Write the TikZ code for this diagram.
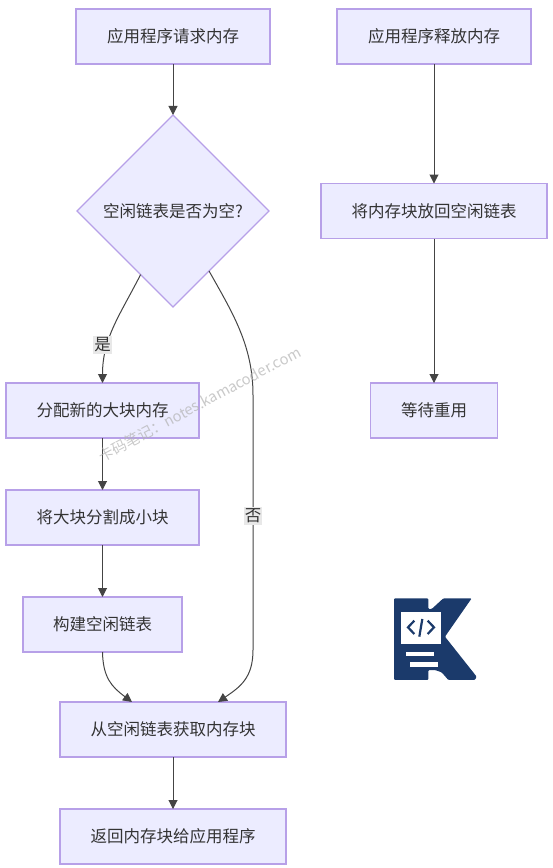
\documentclass[tikz,border=0pt]{standalone}
\usepackage{fontspec}
\setmainfont{Noto Sans CJK SC}
\usetikzlibrary{arrows.meta,shapes.geometric,positioning,calc}
\definecolor{boxfill}{HTML}{ECECFF}
\definecolor{boxline}{HTML}{B7A0E8}
\definecolor{flowline}{HTML}{444444}
\definecolor{labelfill}{HTML}{E8E8E8}
\definecolor{logoblue}{HTML}{1B3A6B}

\begin{document}
\begin{tikzpicture}[
    x=1pt, y=1pt,
    flow/.style={draw=flowline, line width=1pt, -{Triangle[length=9pt,width=9pt]}},
    stepbox/.style={draw=boxline, fill=boxfill, line width=1.3pt, rectangle, minimum height=55pt, outer sep=0pt, align=center, inner sep=0pt, text=black!80, font=\fontsize{16.5}{18}\selectfont},
    decision/.style={draw=boxline, fill=boxfill, line width=1.3pt, diamond, aspect=1, minimum width=192pt, minimum height=192pt, outer sep=0pt, inner sep=0pt, text=black!80, font=\fontsize{16.5}{18}\selectfont},
    edgelabel/.style={fill=labelfill, inner xsep=1pt, inner ysep=2pt, text=black!80, font=\fontsize{16.5}{18}\selectfont}
]
    \useasboundingbox (0,0) rectangle (552,-868);

    % left column
    \node[stepbox, minimum width=194pt] (request) at (173,-36.5) {应用程序请求内存};
    \node[decision, below=51pt of request] (empty) {空闲链表是否为空?};
    \node[stepbox, minimum width=193pt] (alloc) at (102.5,-410.5) {分配新的大块内存};
    \node[stepbox, minimum width=193pt, below=52pt of alloc] (split) {将大块分割成小块};
    \node[stepbox, minimum width=159pt, below=52pt of split] (build) {构建空闲链表};
    \node[stepbox, minimum width=226pt] (take) at (173,-729.5) {从空闲链表获取内存块};
    \node[stepbox, minimum width=226pt, below=52pt of take] (back) {返回内存块给应用程序};

    % right column
    \node[stepbox, minimum width=194pt] (release) at (434,-36.5) {应用程序释放内存};
    \node[stepbox, minimum width=226pt, below=119.5pt of release] (putback) {将内存块放回空闲链表};
    \node[stepbox, minimum width=127pt, below=144.5pt of putback] (reuse) {等待重用};

    \coordinate (take_l) at ($(take.north) + (-41, 0)$);
    \coordinate (take_r) at ($(take.north) + (45, 0)$);

    \draw[flow] (request) -- (empty);
    \draw[flow] (empty.243) .. controls (120,-315) and (102.5,-338) .. (alloc.north);
    \draw[flow] (empty.301) .. controls (232,-312) and (253,-345) .. (253,-395) -- (253,-650) .. controls (253,-678) and (240,-687) .. (take_r);
    \draw[flow] (alloc) -- (split);
    \draw[flow] (split) -- (build);
    \draw[flow] (build.south) .. controls (103,-678) and (112,-687) .. (take_l);
    \draw[flow] (take) -- (back);
    \draw[flow] (release) -- (putback);
    \draw[flow] (putback) -- (reuse);

    \node[edgelabel] (yes) at (102.5,-345) {是};
    \node[edgelabel] (no) at (253,-516) {否};

    % watermark
    \node[rotate=28, text=black!30, opacity=0.7, font=\fontsize{14.8}{18}\selectfont] (mark) at (199.5,-404) {卡码笔记：notes.kamacoder.com};

    % logo
    \begin{scope}[shift={(380,-585)}, x=0.3333pt, y=-0.3333pt]
        \fill[logoblue, rounded corners=1pt] (42,40) -- (145,40) -- (145,72) -- (155,72) -- (190,40) -- (275,40) -- (195,155) -- (290,275) -- (285,285) -- (205,285) -- (185,262) -- (165,255) -- (145,255) -- (145,285) -- (42,285) -- cycle;
        \fill[white] (62,82) rectangle (182,178);
        \fill[white] (77,202) rectangle (163,214);
        \fill[white] (90,232) rectangle (173,245);
        \draw[logoblue, line width=2.2pt] (103,107) -- (84,127) -- (103,147);
        \draw[logoblue, line width=2.2pt] (143,107) -- (162,127) -- (143,147);
        \draw[logoblue, line width=2.2pt] (127,102) -- (118,155);
    \end{scope}

\end{tikzpicture}
\end{document}
